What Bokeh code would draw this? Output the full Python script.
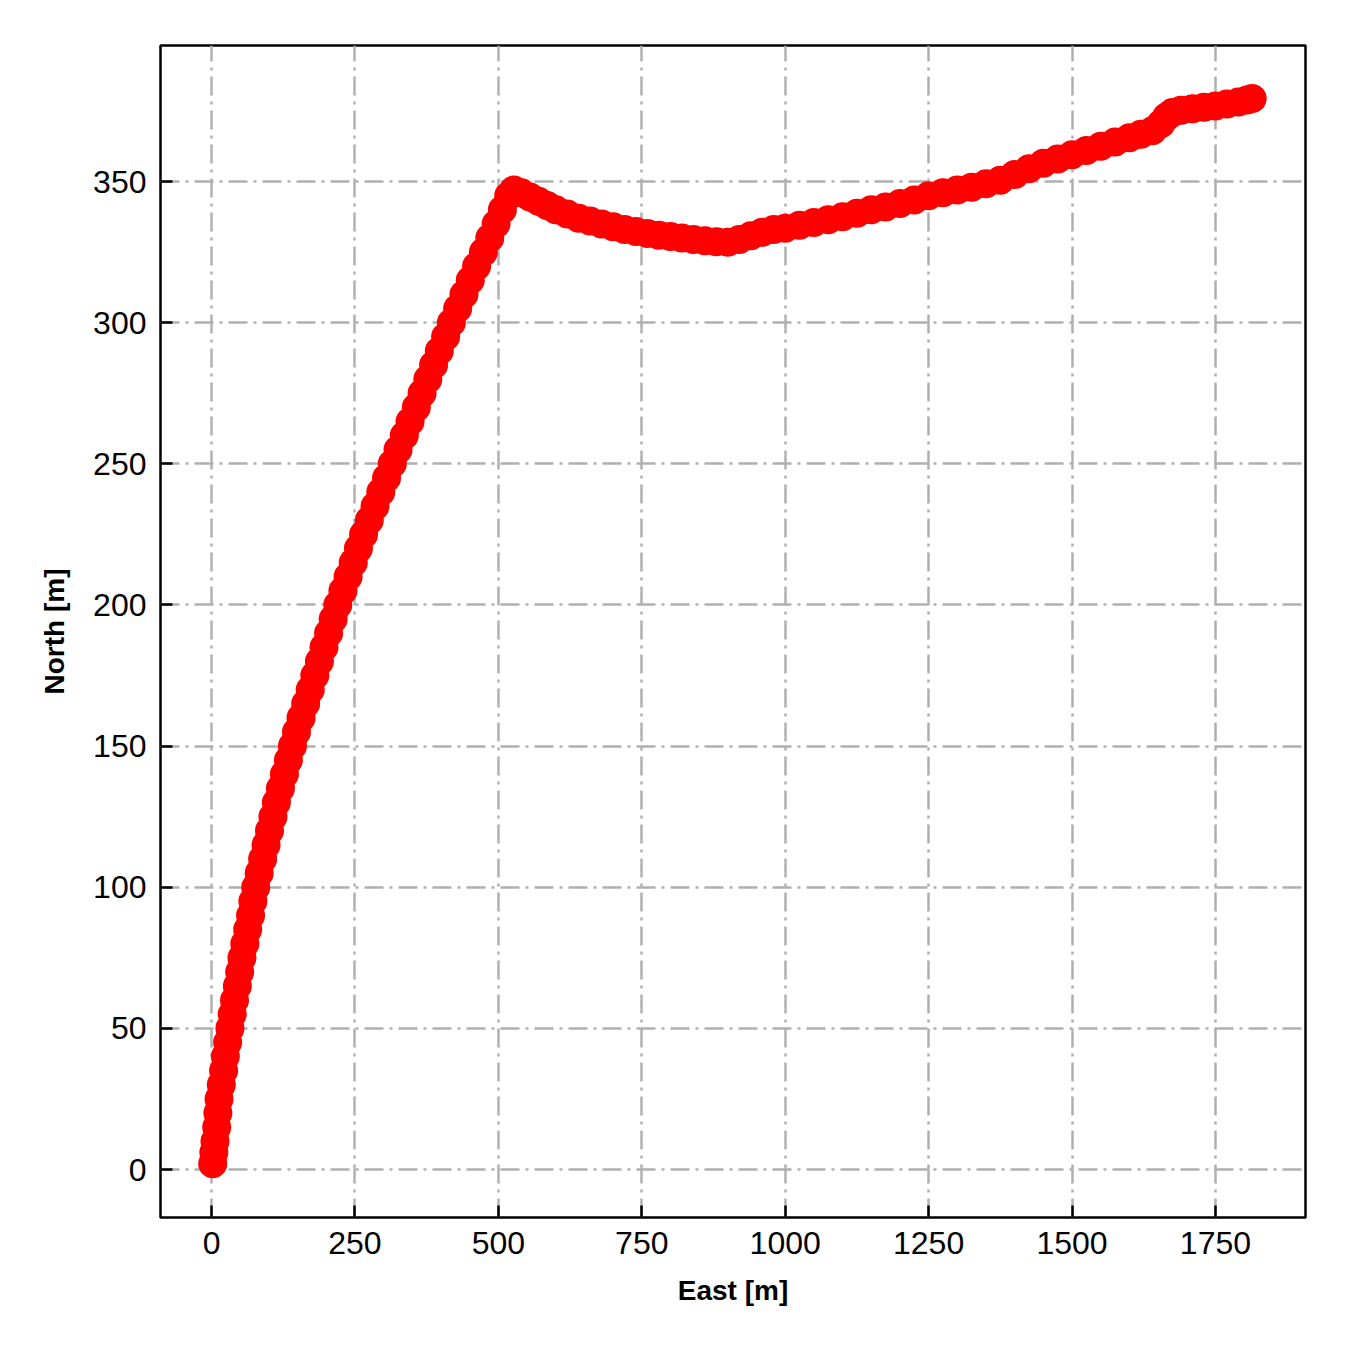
from bokeh.plotting import figure
from bokeh.models import Range1d, FixedTicker
from bokeh.embed import file_html
from bokeh.resources import INLINE

# Rising segment (read as North -> East)
north_rise = [2, 6, 10, 15, 20, 25, 30, 35, 40, 45, 50, 55, 60, 65, 70, 75, 80, 85, 90, 95,
              100, 105, 110, 115, 120, 125, 130, 135, 140, 145, 150, 155, 160, 165, 170, 175,
              180, 185, 190, 195, 200, 205, 210, 215, 220, 225, 230, 235, 240, 245, 250, 255,
              260, 265, 270, 275, 280, 285, 290, 295, 300, 305, 310, 315, 320, 325, 330, 335,
              340, 345, 347]
east_rise = [2, 4, 6, 9, 11, 13, 17, 21, 24, 28, 32, 36, 40, 45, 49, 53, 58, 63, 68, 72,
             77, 83, 89, 95, 101, 107, 113, 120, 127, 134, 141, 148, 156, 164, 172, 180,
             188, 196, 204, 212, 220, 229, 238, 247, 256, 265, 275, 285, 295, 305, 315, 325,
             336, 346, 357, 367, 377, 387, 397, 408, 418, 429, 440, 451, 462, 474, 485, 496,
             507, 518, 527]

# Dip segment
east_dip = [540, 555, 570, 585, 600, 620, 640, 660, 680, 700, 720, 740, 760, 780, 800, 820,
            840, 860, 880, 900]
north_dip = [346, 344.5, 343, 341.5, 340, 338.5, 337, 336, 335, 334, 333, 332.3, 331.6, 331,
             330.5, 330, 329.5, 329, 328.7, 328.5]

# Final climbing segment
east_end = [920, 940, 960, 980, 1000, 1025, 1050, 1075, 1100, 1125, 1150, 1175, 1200, 1225,
            1250, 1275, 1300, 1325, 1350, 1375, 1400, 1425, 1450, 1475, 1500, 1525, 1550,
            1575, 1600, 1620, 1640, 1655, 1665, 1675, 1690, 1710, 1730, 1750, 1770, 1790,
            1805, 1814]
north_end = [329.5, 330.8, 332, 333, 333.5, 334.5, 335.5, 336.5, 337.5, 338.8, 340, 341,
             342.2, 343.5, 345, 346, 347, 348, 349.2, 350.5, 352.5, 354.5, 356.5, 358, 359.5,
             361, 362.5, 364, 365.5, 366.8, 368, 370.5, 373, 374.5, 375.3, 375.8, 376.3,
             376.8, 377.5, 378.2, 378.9, 379.4]

east = east_rise + east_dip + east_end
north = north_rise + north_dip + north_end

x_ticks = [0, 250, 500, 750, 1000, 1250, 1500, 1750]
y_ticks = [0, 50, 100, 150, 200, 250, 300, 350]

FONT = "Liberation Sans"

p = figure(width=1342, height=1342, output_backend="svg", toolbar_location=None,
           x_range=Range1d(-89, 1907), y_range=Range1d(-17, 398.2),
           min_border_left=160, min_border_right=37, min_border_top=45, min_border_bottom=125)

p.background_fill_color = "white"
p.border_fill_color = "white"
p.outline_line_color = "black"
p.outline_line_width = 2.5

p.scatter(east, north, size=29, fill_color="#ff0000", line_color=None, marker="circle")

p.xaxis.ticker = FixedTicker(ticks=x_ticks)
p.yaxis.ticker = FixedTicker(ticks=y_ticks)

for ax in (p.xaxis, p.yaxis):
    ax.axis_line_color = None
    ax.major_tick_in = 12
    ax.major_tick_out = 0
    ax.major_tick_line_width = 2.5
    ax.major_tick_line_color = "black"
    ax.minor_tick_line_color = None
    ax.major_label_text_font = FONT
    ax.major_label_text_font_size = "32px"
    ax.major_label_text_color = "black"
    ax.axis_label_text_font = FONT
    ax.axis_label_text_font_size = "28px"
    ax.axis_label_text_font_style = "bold"
    ax.axis_label_text_color = "black"

p.xaxis.axis_label = "East [m]"
p.yaxis.axis_label = "North [m]"
p.xaxis.major_label_standoff = 14
p.yaxis.major_label_standoff = 14
p.xaxis.axis_label_standoff = 18
p.yaxis.axis_label_standoff = 20

for g in (p.xgrid, p.ygrid):
    g.grid_line_color = "#b0b0b0"
    g.grid_line_width = 2.5
    g.grid_line_dash = "19 6 3 6"

open("out.html", "w").write(file_html(p, INLINE))
